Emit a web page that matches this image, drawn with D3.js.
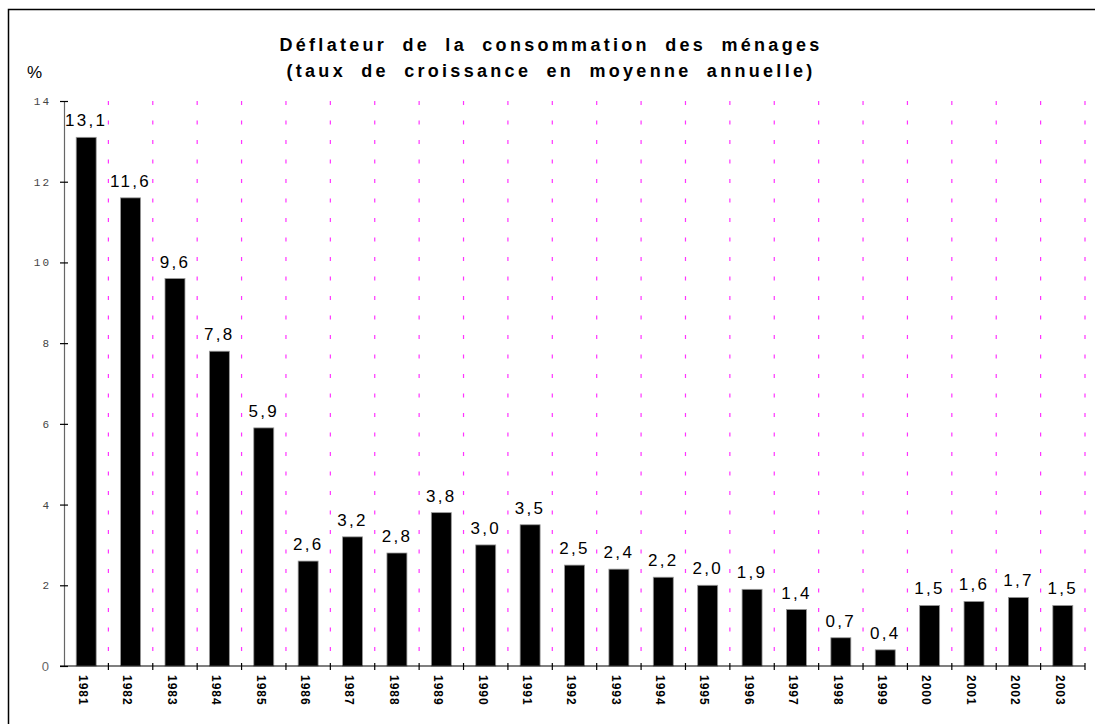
<!DOCTYPE html>
<html>
<head>
<meta charset="utf-8">
<script src="https://cdn.jsdelivr.net/npm/d3@7"></script>
<style>
  body { margin: 0; background: #fff; }
  svg { display: block; }
</style>
</head>
<body>
<div id="chart"></div>
<script>
const years = ['1981','1982','1983','1984','1985','1986','1987','1988','1989','1990','1991','1992',
               '1993','1994','1995','1996','1997','1998','1999','2000','2001','2002','2003'];
const values = [13.1, 11.6, 9.6, 7.8, 5.9, 2.6, 3.2, 2.8, 3.8, 3.0, 3.5, 2.5,
                2.4, 2.2, 2.0, 1.9, 1.4, 0.7, 0.4, 1.5, 1.6, 1.7, 1.5];
const yTicks = [0, 2, 4, 6, 8, 10, 12, 14];
const titleLines = ['Déflateur de la consommation des ménages', '(taux de croissance en moyenne annuelle)'];

const width = 1095, height = 724;
const plot = { left: 64, right: 1085, top: 101, bottom: 666 };

const svg = d3.select('#chart').append('svg')
    .attr('width', width).attr('height', height);

// outer frame (only top and left edges visible)
svg.append('path')
    .attr('d', `M 8.5 ${height + 5} V 9.5 H ${width + 5}`)
    .attr('fill', 'none').attr('stroke', '#000').attr('stroke-width', 1.5);

const x = d3.scaleBand().domain(years).range([plot.left, plot.right]).paddingInner(0.55).paddingOuter(0.275);
const y = d3.scaleLinear().domain([0, 14]).range([plot.bottom, plot.top]);
const step = x.step();

// title
svg.append('g').selectAll('text')
    .data(titleLines)
    .join('text')
    .attr('x', 551).attr('y', (d, i) => 51 + i * 26)
    .attr('text-anchor', 'middle')
    .style('font-family', 'Arial, "Liberation Sans", sans-serif')
    .style('font-weight', 'bold').style('font-size', '18px')
    .style('letter-spacing', '3.3px')
    .style('word-spacing', '7px')
    .text(d => d);

svg.append('text')
    .attr('x', 27).attr('y', 78)
    .style('font-family', 'Arial, "Liberation Sans", sans-serif')
    .style('font-size', '17px')
    .text('%');

// pink dashed vertical gridlines at category boundaries
const boundaries = d3.range(1, years.length + 1).map(i => plot.left + i * step);
svg.append('g').selectAll('line')
    .data(boundaries)
    .join('line')
    .attr('x1', d => d).attr('x2', d => d)
    .attr('y1', plot.top).attr('y2', plot.bottom)
    .attr('stroke', '#ff33ff').attr('stroke-width', 1.2)
    .attr('stroke-dasharray', '4,15.5');

// bars
svg.append('g').selectAll('rect')
    .data(values)
    .join('rect')
    .attr('x', (d, i) => x(years[i]))
    .attr('y', d => y(d))
    .attr('width', x.bandwidth())
    .attr('height', d => y(0) - y(d))
    .attr('fill', '#000')
    .attr('stroke', '#999').attr('stroke-width', 0.8);

// value labels
svg.append('g').selectAll('text')
    .data(values)
    .join('text')
    .attr('x', (d, i) => x(years[i]) + x.bandwidth() / 2)
    .attr('y', d => y(d) - 11)
    .attr('text-anchor', 'middle')
    .style('font-family', 'Arial, "Liberation Sans", sans-serif')
    .style('font-size', '17px')
    .style('letter-spacing', '2.3px')
    .text(d => d.toFixed(1).replace('.', ','));

// y axis
const yAxis = svg.append('g')
    .attr('transform', `translate(${plot.left},0)`)
    .call(d3.axisLeft(y).tickValues(yTicks).tickSize(0).tickPadding(13).tickFormat(d => d));
yAxis.select('.domain').attr('stroke', '#666').attr('stroke-width', 1.2);
yAxis.selectAll('.tick text')
    .style('font-family', '"Liberation Mono", "DejaVu Sans Mono", monospace')
    .style('font-size', '11px')
    .style('letter-spacing', '2px')
    .attr('fill', '#444');
yAxis.selectAll('.tick').filter(d => d === 0).select('text')
    .attr('dx', '-2')
    .style('font-family', 'Arial, "Liberation Sans", sans-serif')
    .style('font-size', '13px')
    .style('letter-spacing', '0px')
    .attr('fill', '#666');
yAxis.selectAll('.tick').append('line')
    .attr('x1', -4).attr('x2', 4).attr('stroke', '#000').attr('stroke-width', 1.2);

// x axis line and boundary ticks
svg.append('line')
    .attr('x1', plot.left - 4).attr('x2', plot.right)
    .attr('y1', plot.bottom).attr('y2', plot.bottom)
    .attr('stroke', '#000').attr('stroke-width', 1.2);
svg.append('g').selectAll('line')
    .data(boundaries)
    .join('line')
    .attr('x1', d => d).attr('x2', d => d)
    .attr('y1', plot.bottom - 3).attr('y2', plot.bottom + 4)
    .attr('stroke', '#000').attr('stroke-width', 1.2);

// year labels, rotated
svg.append('g').selectAll('text')
    .data(years)
    .join('text')
    .attr('transform', d => `translate(${x(d) + x.bandwidth() / 2 - 3},675) rotate(90)`)
    .attr('dy', '0.35em')
    .style('font-family', 'Arial, "Liberation Sans", sans-serif')
    .style('font-weight', 'bold')
    .style('font-size', '12px')
    .style('letter-spacing', '1px')
    .text(d => d);
</script>
</body>
</html>
